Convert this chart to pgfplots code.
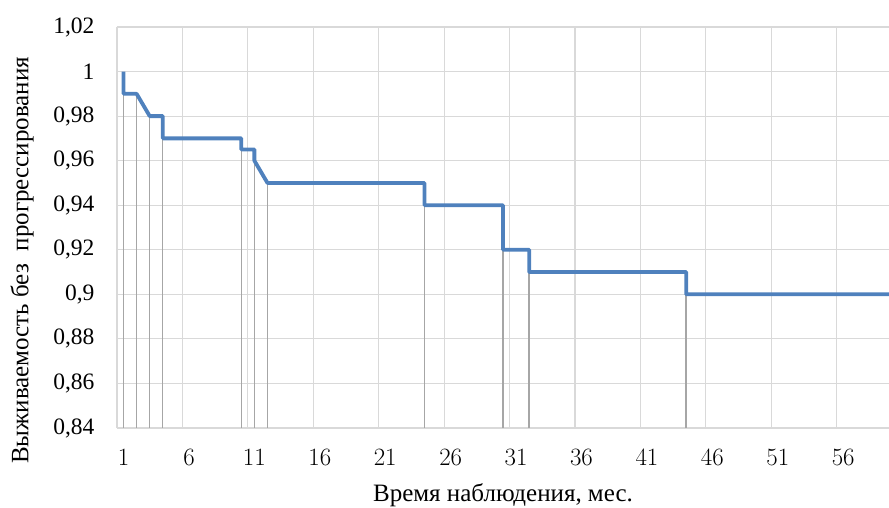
\documentclass[border=0pt]{standalone}
\usepackage{fontspec}
\setmainfont{Liberation Serif}
\newfontfamily\calib{Carlito}
\usepackage{pgfplots}
\pgfplotsset{compat=1.18}
\definecolor{exblue}{HTML}{4F81BD}
\definecolor{gridc}{HTML}{D9D9D9}
\definecolor{dropc}{HTML}{A6A6A6}
\begin{document}
\begin{tikzpicture}
\useasboundingbox (-117pt,-80pt) rectangle (772pt,428pt);
\begin{axis}[
  scale only axis,
  width=772pt, height=401pt,
  xmin=0.5, xmax=59.5,
  ymin=0.84, ymax=1.02,
  xtick={1,6,11,16,21,26,31,36,41,46,51,56},
  minor xtick={0.5,5.5,10.5,15.5,20.5,25.5,30.5,35.5,40.5,45.5,50.5,55.5},
  ytick={0.84,0.86,0.88,0.90,0.92,0.94,0.96,0.98,1.00,1.02},
  yticklabels={{0,84},{0,86},{0,88},{0,9},{0,92},{0,94},{0,96},{0,98},{1},{1,02}},
  xmajorgrids=false, xminorgrids=true, ymajorgrids=true,
  grid style={gridc, line width=1.2pt},
  minor grid style={gridc, line width=1.2pt},
  axis line style={gridc, line width=1.2pt},
  axis x line*=bottom, axis y line*=left,
  major tick length=0pt, minor tick length=0pt,
  tick style={draw=none},
  x tick label style={font=\calib\fontsize{23.5}{25}\selectfont, yshift=-18pt},
  y tick label style={font=\fontsize{23.5}{25}\selectfont, xshift=-19pt},
  xlabel={Время наблюдения, мес.},
  ylabel={Выживаемость без\ \ прогрессирования},
  xlabel style={font=\fontsize{25}{27}\selectfont, at={(axis description cs:0.5,0)}, anchor=center, yshift=-67pt},
  ylabel style={font=\fontsize{25}{27}\selectfont, at={(axis description cs:0,0.5)}, anchor=center, yshift=95pt, xshift=-33pt},
  clip=true,
]
\addplot[ycomb, dropc, line width=1.4pt, mark=none] coordinates {
 (1,0.99) (2,0.99) (3,0.98) (4,0.97) (10,0.965) (11,0.96) (12,0.95)
 (24,0.94) (30,0.92) (32,0.91) (44,0.90)
};
\addplot[exblue, line width=3.8pt, mark=none, line join=round] coordinates {
 (1,1.0) (1,0.99) (2,0.99) (3,0.98) (4,0.98) (4,0.97) (10,0.97) (10,0.965)
 (11,0.965) (11,0.96) (12,0.95) (24,0.95) (24,0.94) (30,0.94) (30,0.92)
 (32,0.92) (32,0.91) (44,0.91) (44,0.90) (59.5,0.90)
};
\end{axis}
\end{tikzpicture}
\end{document}
